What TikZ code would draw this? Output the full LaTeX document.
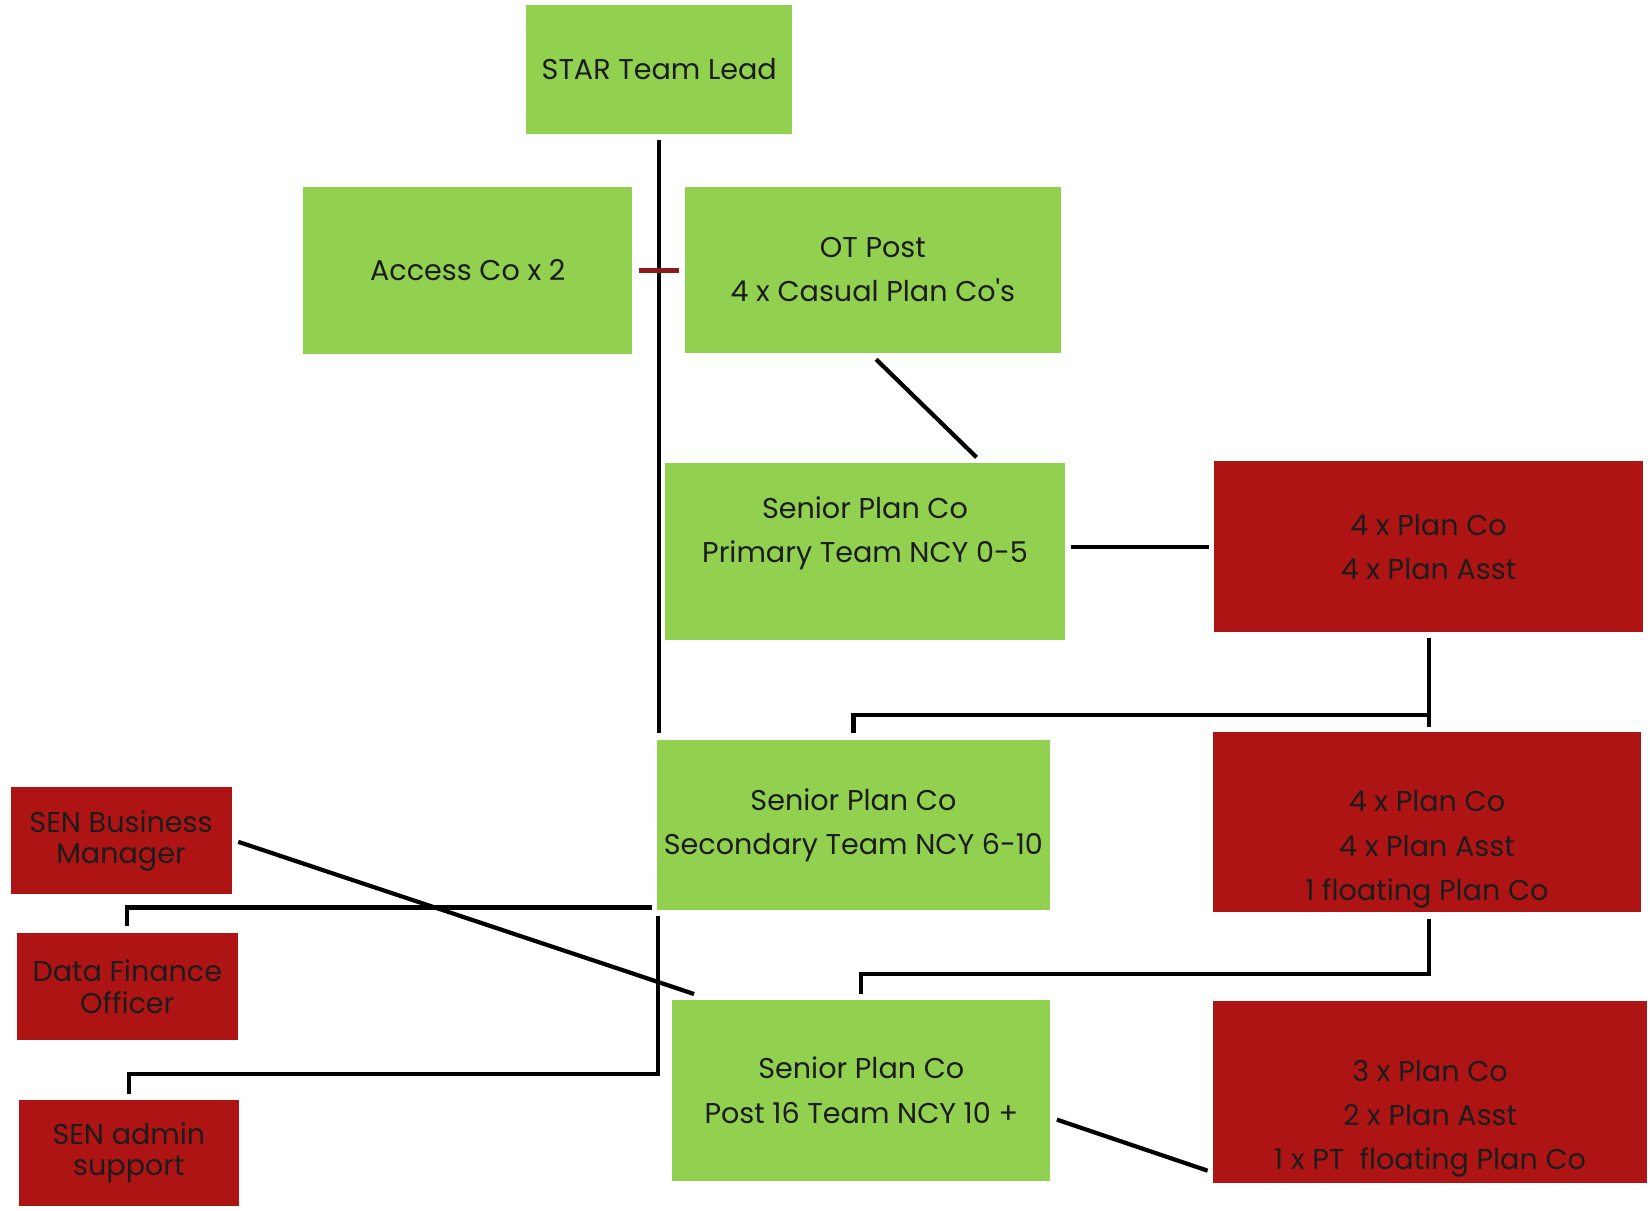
\documentclass[tikz,border=0pt]{standalone}
\usepackage{fontspec}
\setmainfont{Poppins}[Ligatures=TeXOff]
\usetikzlibrary{calc}
\definecolor{boxgreen}{HTML}{92D050}
\definecolor{boxred}{HTML}{AF1414}
\definecolor{tickred}{HTML}{8B1A1A}
\definecolor{txt}{HTML}{1C1C1C}
\tikzset{
  gbox/.style={fill=boxgreen, draw=none, inner sep=0pt, align=center, text=txt,
    font=\fontsize{13.6}{21}\selectfont},
  rbox/.style={fill=boxred, draw=none, inner sep=0pt, align=center, text=txt,
    font=\fontsize{13.6}{21}\selectfont},
  sbox/.style={rbox, font=\fontsize{13.6}{15}\selectfont},
  conn/.style={draw=black, line width=2pt},
  tick/.style={draw=tickred, line width=2pt}
}
\begin{document}
\begin{tikzpicture}[x=0.5pt, y=-0.5pt]
\useasboundingbox (0,0) rectangle (1568,1150);
% boxes
\node[gbox, minimum width=126.5pt, minimum height=61pt] (star) at (626.5,66) {STAR Team Lead};
\node[gbox, minimum width=156.5pt, minimum height=79pt] (access) at (444.5,257) {Access Co x 2};
\node[gbox, minimum width=178.5pt, minimum height=78.5pt] (ot) at (829.5,256.5) {OT Post\\4 x Casual Plan Co's};
\node[gbox, minimum width=190pt, minimum height=84pt] (prim) at (822,524) {Senior Plan Co\\Primary Team NCY 0-5\\\mbox{}};
\node[rbox, minimum width=203.5pt, minimum height=81.5pt] (redA) at (1357.5,519.5) {4 x Plan Co\\4 x Plan Asst};
\node[gbox, minimum width=187pt, minimum height=81pt] (sec) at (811,784) {Senior Plan Co\\Secondary Team NCY 6-10};
\node[rbox, minimum width=203pt, minimum height=85.5pt] (redB) at (1356,781.5) {\strut\\4 x Plan Co\\4 x Plan Asst\\1 floating Plan Co};
\node[sbox, minimum width=105pt, minimum height=51pt] (bus) at (115,799) {SEN Business\\Manager};
\node[sbox, minimum width=105pt, minimum height=50.5pt] (dfo) at (121,937.5) {Data Finance\\Officer};
\node[sbox, minimum width=104.5pt, minimum height=50.5pt] (adm) at (122.5,1095.5) {SEN admin\\support};
\node[gbox, minimum width=179.5pt, minimum height=86pt] (p16) at (818.5,1036) {Senior Plan Co\\Post 16 Team NCY 10 +};
\node[rbox, minimum width=206pt, minimum height=86.5pt] (redC) at (1359,1037.5) {\strut\\3 x Plan Co\\2 x Plan Asst\\1 x PT\ \ floating Plan Co};
% connectors
\draw[conn] ($(star.south)+(0,6)$) -- ($(star.south |- sec.north)+(0,-6)$);
\draw[tick] ($(access.east)+(6,0)$) -- ($(ot.west)+(-5,0.5)$);
\draw[conn] ($(ot.south)+(3,6)$) -- ($(prim.north)+(106,-5)$);
\draw[conn] ($(redA.west)+(-5,0.5)$) -- ($(redA.west -| prim.east)+(5,0.5)$);
\draw[conn] ($(redA.south)+(0.5,5)$) -- ($(redA.south)+(0.5,89)$);
\draw[conn] ($(redA.south)+(0.5,78)$) -| ($(sec.north)+(0,-6)$);
\draw[conn] ($(bus.east)+(6,1)$) -- ($(p16.north west)+(21,-5)$);
\draw[conn] ($(sec.south west)+(-4,-3)$) -| ($(dfo.north)+(0,-7)$);
\draw[conn] ($(sec.south west)+(2,5)$) -- ($(sec.south west)+(2,155)$) -| ($(adm.north)+(0,-5)$);
\draw[conn] ($(redB.south)+(2,6)$) |- ($(p16.north)+(0,-24)$) -- ($(p16.north)+(0,-5)$);
\draw[conn] ($(p16.east)+(6,28)$) -- ($(redC.west)+(-5,75)$);
\end{tikzpicture}
\end{document}
